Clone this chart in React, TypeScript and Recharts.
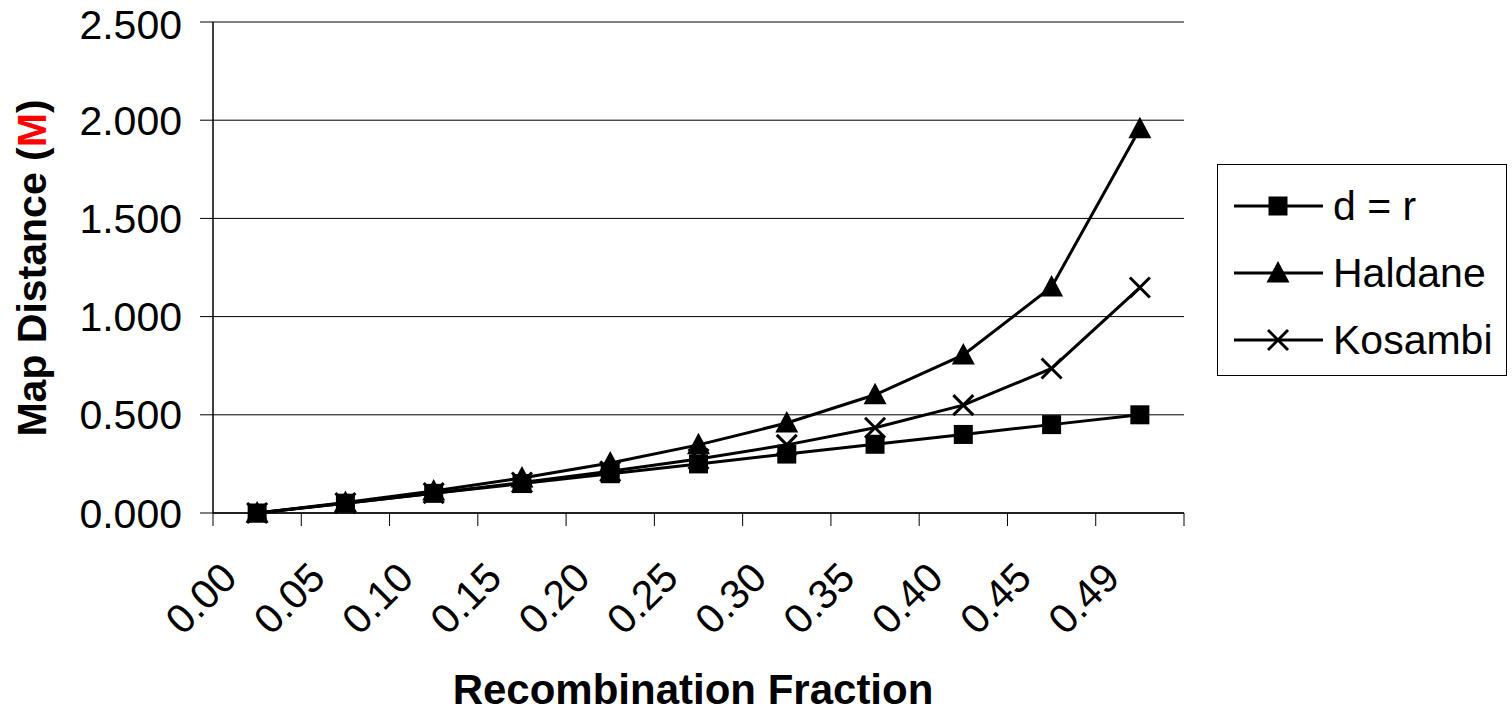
import React from "react";
import { LineChart, Line, XAxis, YAxis, CartesianGrid, ReferenceLine } from "recharts";

// Recombination fraction categories (x axis)
const categories = ["0.00", "0.05", "0.10", "0.15", "0.20", "0.25", "0.30", "0.35", "0.40", "0.45", "0.49"];

// Map distance (M)
const dEqualsR = [0, 0.05, 0.1, 0.15, 0.2, 0.25, 0.3, 0.35, 0.4, 0.45, 0.5];
const haldane = [0, 0.053, 0.112, 0.178, 0.255, 0.347, 0.458, 0.602, 0.805, 1.151, 1.956];
const kosambi = [0, 0.05, 0.101, 0.155, 0.212, 0.275, 0.347, 0.434, 0.549, 0.736, 1.148];

const yTicks = [0, 0.5, 1, 1.5, 2, 2.5];

const FONT = '"Liberation Sans", Arial, sans-serif';
const PLOT_LEFT = 213;
const PLOT_RIGHT = 1184;
// Excel-style category axis: points sit in the middle of each band
const BAND = (PLOT_RIGHT - PLOT_LEFT) / categories.length;

const data = categories.map((c, i) => ({
  r: c,
  dr: dEqualsR[i],
  haldane: haldane[i],
  kosambi: kosambi[i],
}));

const SquareDot = ({ cx, cy }: any) =>
  cx == null ? null : <rect x={cx - 9.5} y={cy - 9.5} width={19} height={19} fill="#000" />;

const TriangleDot = ({ cx, cy }: any) =>
  cx == null ? null : (
    <polygon points={`${cx},${cy - 12} ${cx + 11.5},${cy + 9.5} ${cx - 11.5},${cy + 9.5}`} fill="#000" />
  );

const CrossDot = ({ cx, cy }: any) =>
  cx == null ? null : (
    <g stroke="#000" strokeWidth={3}>
      <line x1={cx - 10} y1={cy - 10} x2={cx + 10} y2={cy + 10} />
      <line x1={cx - 10} y1={cy + 10} x2={cx + 10} y2={cy - 10} />
    </g>
  );

const XTick = (props: any) => {
  const { x, y, payload } = props;
  const i = categories.indexOf(payload.value);
  const tx = x - 18;
  const ty = y + 54;
  return (
    <g>
      <line x1={x - BAND / 2} x2={x - BAND / 2} y1={y - 13} y2={y} stroke="#000" />
      {i === categories.length - 1 && (
        <line x1={x + BAND / 2} x2={x + BAND / 2} y1={y - 13} y2={y} stroke="#000" />
      )}
      <text
        x={tx}
        y={ty}
        transform={`rotate(-45, ${tx}, ${ty})`}
        textAnchor="end"
        fontFamily={FONT}
        fontSize={41}
        fill="#000"
      >
        {payload.value}
      </text>
    </g>
  );
};

const YTitle = () => (
  <text
    x={46}
    y={268}
    transform="rotate(-90, 46, 268)"
    textAnchor="middle"
    fontFamily={FONT}
    fontSize={41}
    fontWeight="bold"
    fill="#000"
  >
    <tspan>Map Distance (</tspan>
    <tspan fill="#ff0000">M</tspan>
    <tspan>)</tspan>
  </text>
);

const XTitle = () => (
  <text x={693} y={704} textAnchor="middle" fontFamily={FONT} fontSize={42} fontWeight="bold" fill="#000">
    Recombination Fraction
  </text>
);

const legendItems = [
  { name: "d = r", Icon: SquareDot },
  { name: "Haldane", Icon: TriangleDot },
  { name: "Kosambi", Icon: CrossDot },
];

export default function App() {
  return (
    <div style={{ position: "absolute", left: 0, top: 0, width: 1512, height: 714, background: "#fff" }}>
      <LineChart width={1512} height={714} data={data} margin={{ top: 22, right: 328, bottom: 0, left: 0 }}>
        <CartesianGrid vertical={false} stroke="#000" />
        <ReferenceLine y={2.5} stroke="#808080" strokeWidth={2} />
        <XAxis
          dataKey="r"
          height={201}
          interval={0}
          padding={{ left: BAND / 2, right: BAND / 2 }}
          tickLine={false}
          tickSize={13}
          tickMargin={0}
          axisLine={{ stroke: "#000", strokeWidth: 1.5 }}
          tick={<XTick />}
          label={{ content: () => <XTitle /> }}
        />
        <YAxis
          width={213}
          domain={[0, 2.5]}
          ticks={yTicks}
          tickFormatter={(v: number) => v.toFixed(3)}
          tickSize={13}
          tickMargin={18}
          tickLine={{ stroke: "#000" }}
          axisLine={{ stroke: "#000", strokeWidth: 1.5 }}
          tick={{ fontFamily: FONT, fontSize: 41, fill: "#000" }}
          label={{ content: () => <YTitle /> }}
        />
        <YAxis
          yAxisId="frame"
          orientation="right"
          width={0}
          domain={[0, 2.5]}
          tick={false}
          tickLine={false}
          axisLine={{ stroke: "#808080", strokeWidth: 2 }}
        />
        <Line
          dataKey="kosambi"
          stroke="#000"
          strokeWidth={3}
          dot={<CrossDot />}
          isAnimationActive={false}
        />
        <Line
          dataKey="haldane"
          stroke="#000"
          strokeWidth={3}
          dot={<TriangleDot />}
          isAnimationActive={false}
        />
        <Line dataKey="dr" stroke="#000" strokeWidth={3} dot={<SquareDot />} isAnimationActive={false} />
      </LineChart>
      <div
        style={{
          position: "absolute",
          left: 1217,
          top: 164,
          width: 288,
          height: 203,
          border: "1px solid #000",
          background: "#fff",
          fontFamily: FONT,
          fontSize: 41,
          paddingTop: 7,
          boxSizing: "content-box",
        }}
      >
        {legendItems.map(({ name, Icon }) => (
          <div key={name} style={{ display: "flex", alignItems: "center", height: 67 }}>
            <svg width={115} height={30} style={{ flex: "none" }}>
              <line x1={16} x2={105} y1={15} y2={15} stroke="#000" strokeWidth={3} />
              <Icon cx={60} cy={15} />
            </svg>
            <span style={{ lineHeight: "40px" }}>{name}</span>
          </div>
        ))}
      </div>
    </div>
  );
}
